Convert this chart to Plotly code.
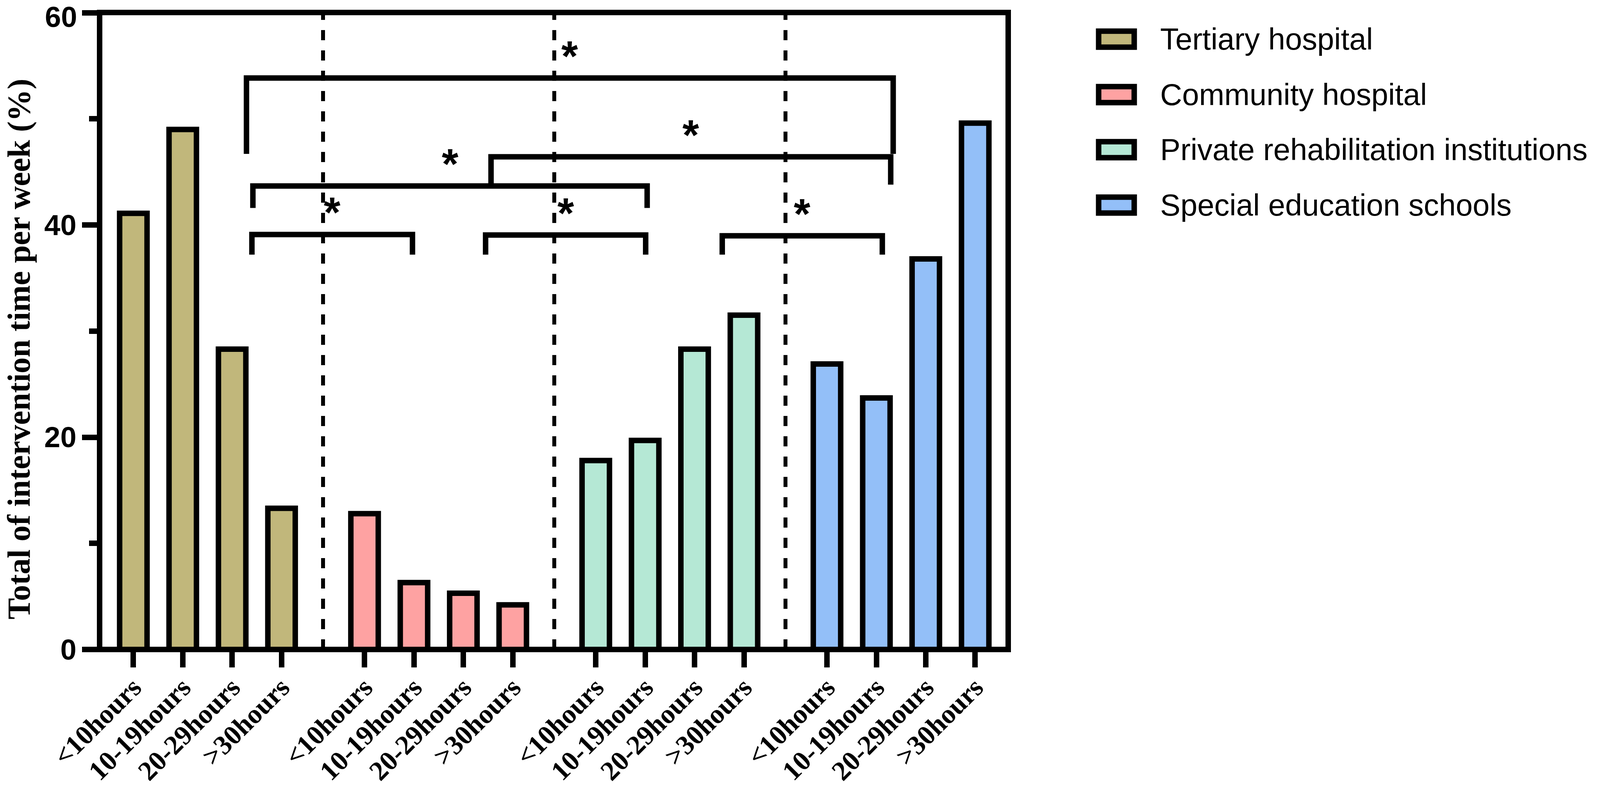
import plotly.graph_objects as go

# ---------------- data ----------------
categories = ["&lt;10hours", "10-19hours", "20-29hours", "&gt;30hours"]
groups = ["Tertiary hospital", "Community hospital",
          "Private rehabilitation institutions", "Special education schools"]
tertiary = [41.1, 49.0, 28.3, 13.3]
community = [12.8, 6.3, 5.3, 4.2]
private = [17.8, 19.7, 28.3, 31.5]
special = [26.9, 23.7, 36.8, 49.6]
series = [tertiary, community, private, special]
colors = ["#C1B77B", "#FEA2A2", "#B5E8D5", "#93BFF8"]
y_ticks = [0, 20, 40, 60]
y_minor = [10, 30, 50]
y_title = "Total of intervention time per week (%)"
star = "*"

# significance brackets: (x0, x1, y, left leg end, right leg end)
brackets = [
    (2.29, 15.38, 53.85, 46.7, 46.7),
    (2.42, 10.40, 43.67, 41.6, 41.6),
    (7.24, 15.33, 46.42, 43.67, 43.8),
    (2.40, 5.65, 39.1, 37.2, 37.2),
    (7.13, 10.37, 39.05, 37.2, 37.2),
    (11.92, 15.16, 38.98, 37.2, 37.2),
]

# ---------------- layout geometry ----------------
W, H = 4317, 2051
PL, PR, PT, PB = 269, 2720.5, 31.6, 1663.5
GROUP_STEP = 4.68
BAR_W = 0.555
LW = 14
XT_SIZE, YT_SIZE = 74, 78

def xpos(g, i):
    return g * GROUP_STEP + i

def px_x(X):
    return (X - PL) / (PR - PL)

def px_y(Y):
    return (PB - Y) / (PB - PT)

fig = go.Figure()
tickvals, ticktext = [], []
for g, (name, vals, col) in enumerate(zip(groups, series, colors)):
    xs = [xpos(g, i) for i in range(len(vals))]
    tickvals += xs
    ticktext += categories
    fig.add_trace(go.Bar(
        x=xs, y=vals, name=name, width=BAR_W,
        marker=dict(color=col, line=dict(color="black", width=LW)),
        showlegend=False,
    ))

shapes = []
shapes.append(dict(type="rect", xref="paper", yref="paper", x0=0, x1=1, y0=0, y1=1,
                   line=dict(color="black", width=LW), layer="above"))
for g in range(1, len(groups)):
    xm = (xpos(g - 1, 3) + xpos(g, 0)) / 2
    shapes.append(dict(type="line", xref="x", yref="y", x0=xm, x1=xm, y0=0, y1=60,
                       line=dict(color="black", width=10, dash="26px,26px"), layer="above"))
annotations = []
for (x0, x1, yb, l0, l1) in brackets:
    shapes.append(dict(type="path", xref="x", yref="y",
                       path=f"M {x0},{l0} L {x0},{yb} L {x1},{yb} L {x1},{l1}",
                       line=dict(color="black", width=LW), layer="above"))
    annotations.append(dict(x=(x0 + x1) / 2, y=yb + 2.1, xref="x", yref="y", text=star,
                            showarrow=False, xanchor="center", yanchor="middle",
                            font=dict(family="Liberation Sans", size=115, color="black", weight=700)))

row_centers = [100, 242, 383, 525]
for name, col, yc in zip(groups, colors, row_centers):
    shapes.append(dict(type="rect", xref="paper", yref="paper",
                       x0=px_x(2964.5), x1=px_x(3060.5), y0=px_y(yc + 20.5), y1=px_y(yc - 20.5),
                       fillcolor=col, line=dict(color="black", width=LW)))
    annotations.append(dict(x=px_x(3128), y=px_y(yc), xref="paper", yref="paper", text=name,
                            showarrow=False, xanchor="left", yanchor="middle",
                            font=dict(family="Liberation Sans", size=82, color="black")))

annotations.append(dict(x=px_x(52), y=px_y(894), xref="paper", yref="paper", text=y_title,
                        showarrow=False, textangle=-90, xanchor="center", yanchor="middle",
                        font=dict(family="Liberation Serif", size=82, color="black", weight=700)))

# top y tick label drawn as annotation so that it stays inside the page
y_ticktext = [str(v) for v in y_ticks[:-1]] + [""]
annotations.append(dict(x=px_x(209), y=px_y(1), xref="paper", yref="paper", text=str(y_ticks[-1]),
                        showarrow=False, xanchor="right", yanchor="top", borderpad=0,
                        font=dict(family="Liberation Sans", size=YT_SIZE, color="black", weight=700)))

fig.update_layout(
    width=W, height=H,
    margin=dict(l=PL, r=W - PR, t=PT, b=H - PB, pad=0, autoexpand=False),
    plot_bgcolor="white", paper_bgcolor="white",
    shapes=shapes, annotations=annotations,
    xaxis=dict(range=[(PL - 360) / 133.3, (PR - 360) / 133.3], automargin=False,
               tickmode="array", tickvals=tickvals, ticktext=ticktext, tickangle=-45,
               ticks="outside", ticklen=45, tickwidth=LW, tickcolor="black",
               ticklabelstandoff=-18,
               showline=False, showgrid=False, zeroline=False, ticklabeloverflow="allow",
               tickfont=dict(family="Liberation Serif", size=XT_SIZE, color="black", weight=700)),
    yaxis=dict(range=[0, 60.02], tickmode="array", tickvals=y_ticks, ticktext=y_ticktext,
               automargin=False,
               ticks="outside", ticklen=46, tickwidth=LW, tickcolor="black",
               minor=dict(tickvals=y_minor, ticks="outside", ticklen=27, tickwidth=LW,
                          tickcolor="black", showgrid=False),
               showline=False, showgrid=False, zeroline=False, ticklabeloverflow="allow",
               tickfont=dict(family="Liberation Sans", size=YT_SIZE, color="black", weight=700)),
)

# fit the figure to the actual browser viewport (keeps proportions of the design)
post_js = """
(function(){
var gd = document.getElementById('{plot_id}');
document.documentElement.style.margin='0';
document.documentElement.style.overflow='hidden';
document.body.style.margin='0';
document.body.style.overflow='hidden';
var w = window.innerWidth || __W__, h = window.innerHeight || __H__;
if (Math.abs(w-__W__) < 2 && Math.abs(h-__H__) < 2) { return; }
var sx = w/__W__, sy = h/__H__;
var upd = {width: w, height: h,
  'margin.l': __L__*sx, 'margin.r': __R__*sx, 'margin.t': __T__*sy, 'margin.b': __B__*sy,
  'xaxis.tickfont.size': __XT__*sx, 'yaxis.tickfont.size': __YT__*sx,
  'yaxis.ticklen': 46*sx, 'yaxis.minor.ticklen': 27*sx};
var ann = gd.layout.annotations || [];
for (var i=0; i<ann.length; i++) {
  var k = (ann[i].textangle == -90) ? sy : sx;
  upd['annotations['+i+'].font.size'] = ann[i].font.size * k;
}
Plotly.relayout(gd, upd);
})();
"""
for k, v in {"__W__": W, "__H__": H, "__L__": PL, "__R__": W - PR, "__T__": PT,
             "__B__": H - PB, "__XT__": XT_SIZE, "__YT__": YT_SIZE}.items():
    post_js = post_js.replace(k, str(v))

fig.write_html("out.html", post_script=post_js, config={"displayModeBar": False})
